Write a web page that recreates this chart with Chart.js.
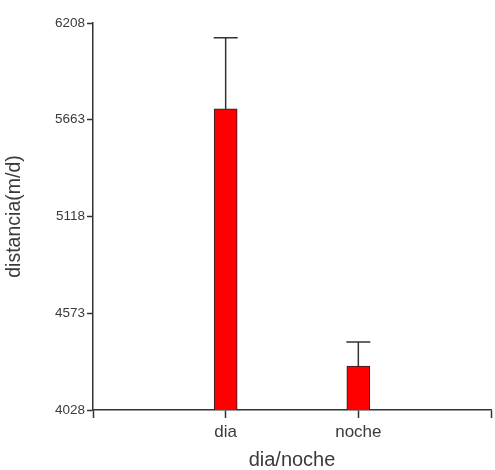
<!DOCTYPE html>
<html>
<head>
<meta charset="utf-8">
<script src="https://cdn.jsdelivr.net/npm/chart.js@4"></script>
<style>
  html, body { margin: 0; padding: 0; background: #fff; }
  #wrap { width: 495px; height: 470px; }
</style>
</head>
<body>
<div id="wrap"><canvas id="c" width="495" height="470"></canvas></div>
<script>
// Mean distance travelled per period, with the upper error bar length
const categories = ['dia', 'noche'];
const means = [5724, 4275];
const errors = [401, 136];
const yTicks = [4028, 4573, 5118, 5663, 6208];

// Empty slots on each side so the bars sit at 1/3 and 2/3 of the axis
const labels = [''].concat(categories, ['']);
const barData = [null].concat(means, [null]);
const errData = [null].concat(errors, [null]);

const ink = '#333333';
const fontFamily = '"Liberation Sans", Arial, sans-serif';

// Upper error bars: stem from the bar top to mean + error, with a cap
const errorBars = {
  id: 'errorBars',
  afterDatasetsDraw(chart) {
    const meta = chart.getDatasetMeta(0);
    const y = chart.scales.y;
    const ctx = chart.ctx;
    ctx.save();
    ctx.strokeStyle = ink;
    ctx.lineWidth = 1.5;
    meta.data.forEach((bar, i) => {
      const v = barData[i];
      const e = errData[i];
      if (v == null || e == null) return;
      const yTop = y.getPixelForValue(v + e);
      const yBar = y.getPixelForValue(v);
      ctx.beginPath();
      ctx.moveTo(bar.x, yBar);
      ctx.lineTo(bar.x, yTop);
      ctx.moveTo(bar.x - 12, yTop);
      ctx.lineTo(bar.x + 12, yTop);
      ctx.stroke();
    });
    ctx.restore();
  }
};

new Chart(document.getElementById('c'), {
  type: 'bar',
  data: {
    labels: labels,
    datasets: [{
      data: barData,
      backgroundColor: '#ff0000',
      borderColor: '#222222',
      borderWidth: 1,
      barThickness: 23
    }]
  },
  options: {
    responsive: false,
    animation: false,
    devicePixelRatio: 1,
    layout: { padding: { top: 23, right: 1, bottom: 0, left: 0 } },
    plugins: {
      legend: { display: false },
      tooltip: { enabled: false }
    },
    scales: {
      x: {
        offset: false,
        grid: {
          offset: false,
          drawOnChartArea: false,
          drawTicks: true,
          tickLength: 8,
          tickColor: ink,
          tickWidth: 1.5
        },
        border: { display: true, color: ink, width: 1.5 },
        ticks: {
          color: '#3a3a3a',
          padding: 4,
          maxRotation: 0,
          autoSkip: false,
          font: { family: fontFamily, size: 17 }
        },
        title: {
          display: true,
          text: 'dia/noche',
          color: '#3a3a3a',
          padding: { top: 0, bottom: 0 },
          font: { family: fontFamily, size: 20, lineHeight: 1 }
        },
        afterFit(scale) { scale.height = 60; }
      },
      y: {
        min: yTicks[0],
        max: yTicks[yTicks.length - 1],
        afterBuildTicks(scale) {
          scale.ticks = yTicks.map(v => ({ value: v }));
        },
        grid: {
          drawOnChartArea: false,
          drawTicks: true,
          tickLength: 6,
          tickColor: ink,
          tickWidth: 1.5
        },
        border: { display: true, color: ink, width: 1.5 },
        ticks: {
          color: '#3a3a3a',
          padding: 2,
          font: { family: fontFamily, size: 13.5 },
          callback: v => String(v)
        },
        title: {
          display: true,
          text: 'distancia(m/d)',
          color: '#3a3a3a',
          padding: { top: 3, bottom: 0 },
          font: { family: fontFamily, size: 19.5 }
        },
        afterFit(scale) { scale.width = 93; }
      }
    }
  },
  plugins: [errorBars]
});
</script>
</body>
</html>
